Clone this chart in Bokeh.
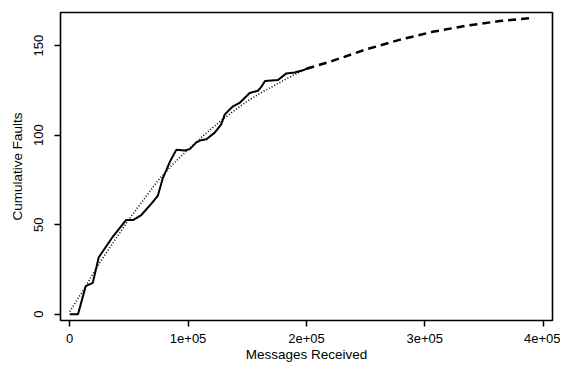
from bokeh.plotting import figure
from bokeh.models import FixedTicker, Range1d
from bokeh.embed import file_html
from bokeh.resources import INLINE

# Observed cumulative faults (solid line)
msgs_observed = [0, 7000, 13500, 19500, 24500, 27000, 36500, 47500, 53500, 60500,
                 69000, 74500, 78500, 84500, 90000, 97000, 101500, 107000, 111000,
                 115500, 122500, 128000, 131000, 138000, 143500, 152000, 159000,
                 162000, 165000, 176000, 183000, 190000, 197000, 203000]
faults_observed = [0, 0, 15.7, 17.5, 31.8, 34.2, 43.4, 52.6, 52.6, 55.4,
                   61.8, 66.3, 75.7, 85.0, 91.8, 91.4, 92.2, 96.0, 97.2,
                   97.7, 101.4, 106.0, 111.6, 116.1, 118.0, 123.5, 124.8,
                   127.1, 130.3, 130.8, 134.5, 135.0, 136.2, 138.0]

# Fitted curve over the observed period (dotted line)
msgs_fit = [0, 12500, 25000, 50000, 75000, 87500, 100000, 112500, 125000,
            137500, 150000, 162500, 175000, 187500, 200000]
faults_fit = [1.5, 14.5, 28.5, 53.0, 75.0, 84.0, 92.0, 99.5, 106.5,
              113.0, 119.0, 124.0, 128.5, 133.0, 137.0]

# Extrapolated curve (dashed line)
msgs_pred = [200000, 222000, 250000, 278500, 306500, 335000, 363000, 392400]
faults_pred = [137.0, 141.5, 147.8, 153.2, 157.7, 161.1, 163.7, 165.6]

x_tick_values = [0, 100000, 200000, 300000, 400000]
x_tick_labels = ["0", "1e+05", "2e+05", "3e+05", "4e+05"]
y_tick_values = [0, 50, 100, 150]
y_tick_labels = ["0", "50", "100", "150"]

FONT = "Liberation Sans"

p = figure(frame_width=492, frame_height=308,
           x_range=Range1d(-7800, 407900), y_range=Range1d(-3.5, 168.5),
           output_backend="svg", toolbar_location=None,
           min_border_left=60, min_border_right=8, min_border_top=12,
           min_border_bottom=46)

p.grid.visible = False
p.outline_line_color = "black"
p.outline_line_width = 1.6
p.background_fill_color = "white"
p.border_fill_color = "white"

p.xaxis.ticker = FixedTicker(ticks=x_tick_values)
p.xaxis.major_label_overrides = {v: l for v, l in zip(x_tick_values, x_tick_labels)}
p.yaxis.ticker = FixedTicker(ticks=y_tick_values)
p.yaxis.major_label_overrides = {v: l for v, l in zip(y_tick_values, y_tick_labels)}
p.yaxis.major_label_orientation = "vertical"

for ax in (p.xaxis, p.yaxis):
    ax.axis_line_color = None
    ax.major_tick_out = 6
    ax.major_tick_in = 0
    ax.minor_tick_out = 0
    ax.minor_tick_in = 0
    ax.major_tick_line_width = 1.5
    ax.major_tick_line_color = "black"
    ax.major_label_text_font = FONT
    ax.major_label_text_font_size = "13px"
    ax.major_label_text_color = "black"
    ax.axis_label_text_font = FONT
    ax.axis_label_text_font_size = "13.5px"
    ax.axis_label_text_font_style = "normal"
    ax.axis_label_text_color = "black"

p.xaxis.axis_label = "Messages Received"
p.yaxis.axis_label = "Cumulative Faults"
p.xaxis.major_label_standoff = 7
p.yaxis.major_label_standoff = 11
p.xaxis.axis_label_standoff = 1
p.yaxis.axis_label_standoff = 7

p.line(msgs_observed, faults_observed, line_color="black", line_width=2)
p.line(msgs_fit, faults_fit, line_color="black", line_width=1.6, line_dash="1 2")
p.line(msgs_pred, faults_pred, line_color="black", line_width=2.5, line_dash="8 5")

open("out.html", "w").write(file_html(p, INLINE))
